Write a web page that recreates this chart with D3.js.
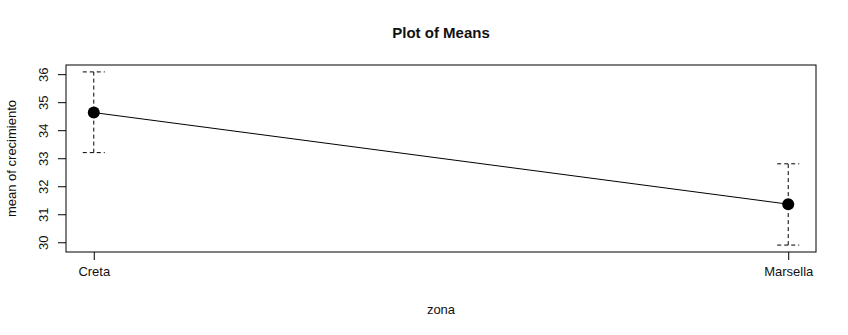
<!DOCTYPE html>
<html lang="en">
<head>
<meta charset="UTF-8">
<title>Plot of Means</title>
<script src="https://cdn.jsdelivr.net/npm/d3@7"></script>
<style>
body{margin:0;background:#fff;}
text{font-family:"Liberation Sans",Arial,sans-serif;fill:#111;}
</style>
</head>
<body>
<script>
// datos
var zonas = ["Creta", "Marsella"];
var medias = [34.63, 31.36];
var superior = [36.08, 32.80];
var inferior = [33.20, 29.90];
var yTicks = [30, 31, 32, 33, 34, 35, 36];

var width = 848, height = 335;
var box = {left: 66, right: 816, top: 65, bottom: 252};
var svg = d3.select("body").append("svg").attr("width", width).attr("height", height);

var xScale = d3.scaleLinear().domain([0.96, 2.04]).range([box.left, box.right]);
var yScale = d3.scaleLinear().domain([29.653, 36.327]).range([box.bottom, box.top]);

// eje y
var yAxis = d3.axisLeft(yScale).tickValues(yTicks).tickSize(8).tickFormat(d3.format("d"));
var gy = svg.append("g").attr("transform", "translate(" + (box.left - 8) + ",0)").call(yAxis);
gy.select(".domain").remove();
gy.selectAll(".tick line").attr("x1", 0).attr("x2", 8).attr("stroke", "#000");
gy.selectAll(".tick text").attr("transform", "rotate(-90)").attr("x", 0).attr("y", -10)
  .attr("dy", "0").attr("text-anchor", "middle").style("font-size", "13px").style("font-family", "Liberation Sans, Arial, sans-serif");

// eje x
var xAxis = d3.axisBottom(xScale).tickValues([1, 2]).tickSize(8).tickFormat(function(d){ return zonas[d-1]; });
var gx = svg.append("g").attr("transform", "translate(0," + box.bottom + ")").call(xAxis);
gx.select(".domain").remove();
gx.selectAll(".tick line").attr("y1", 0).attr("y2", 8).attr("stroke", "#000");
gx.selectAll(".tick text").attr("y", 20).attr("dy", "0.32em").style("font-size", "13px").style("font-family", "Liberation Sans, Arial, sans-serif");

// caja
svg.append("rect").attr("x", box.left).attr("y", box.top)
  .attr("width", box.right - box.left).attr("height", box.bottom - box.top)
  .attr("fill", "none").attr("stroke", "#000").attr("stroke-width", 1);

// barras de error
var idx = d3.range(zonas.length);
var eb = svg.append("g").attr("stroke", "#000").attr("stroke-dasharray", "4,3").attr("stroke-width", 1);
eb.selectAll("line.v").data(idx).enter().append("line")
  .attr("x1", function(i){ return xScale(i+1); }).attr("x2", function(i){ return xScale(i+1); })
  .attr("y1", function(i){ return yScale(inferior[i]); }).attr("y2", function(i){ return yScale(superior[i]); });
eb.selectAll("line.top").data(idx).enter().append("line")
  .attr("x1", function(i){ return xScale(i+1) - 11; }).attr("x2", function(i){ return xScale(i+1) + 11; })
  .attr("y1", function(i){ return yScale(superior[i]); }).attr("y2", function(i){ return yScale(superior[i]); });
eb.selectAll("line.bot").data(idx).enter().append("line")
  .attr("x1", function(i){ return xScale(i+1) - 11; }).attr("x2", function(i){ return xScale(i+1) + 11; })
  .attr("y1", function(i){ return yScale(inferior[i]); }).attr("y2", function(i){ return yScale(inferior[i]); });

// linea de medias
var line = d3.line().x(function(d, i){ return xScale(i+1); }).y(function(d){ return yScale(d); });
svg.append("path").datum(medias).attr("d", line).attr("fill", "none").attr("stroke", "#000").attr("stroke-width", 1);

svg.selectAll("circle").data(medias).enter().append("circle")
  .attr("cx", function(d, i){ return xScale(i+1); }).attr("cy", function(d){ return yScale(d); })
  .attr("r", 6).attr("fill", "#000");

// titulos
svg.append("text").attr("x", (box.left + box.right) / 2).attr("y", 38).attr("text-anchor", "middle")
  .style("font-size", "15px").style("font-weight", "bold").text("Plot of Means");
svg.append("text").attr("x", (box.left + box.right) / 2).attr("y", 314).attr("text-anchor", "middle")
  .style("font-size", "13px").text("zona");
svg.append("text").attr("transform", "translate(16," + ((box.top + box.bottom) / 2) + ") rotate(-90)")
  .attr("text-anchor", "middle").style("font-size", "13px").text("mean of crecimiento");
</script>
</body>
</html>
